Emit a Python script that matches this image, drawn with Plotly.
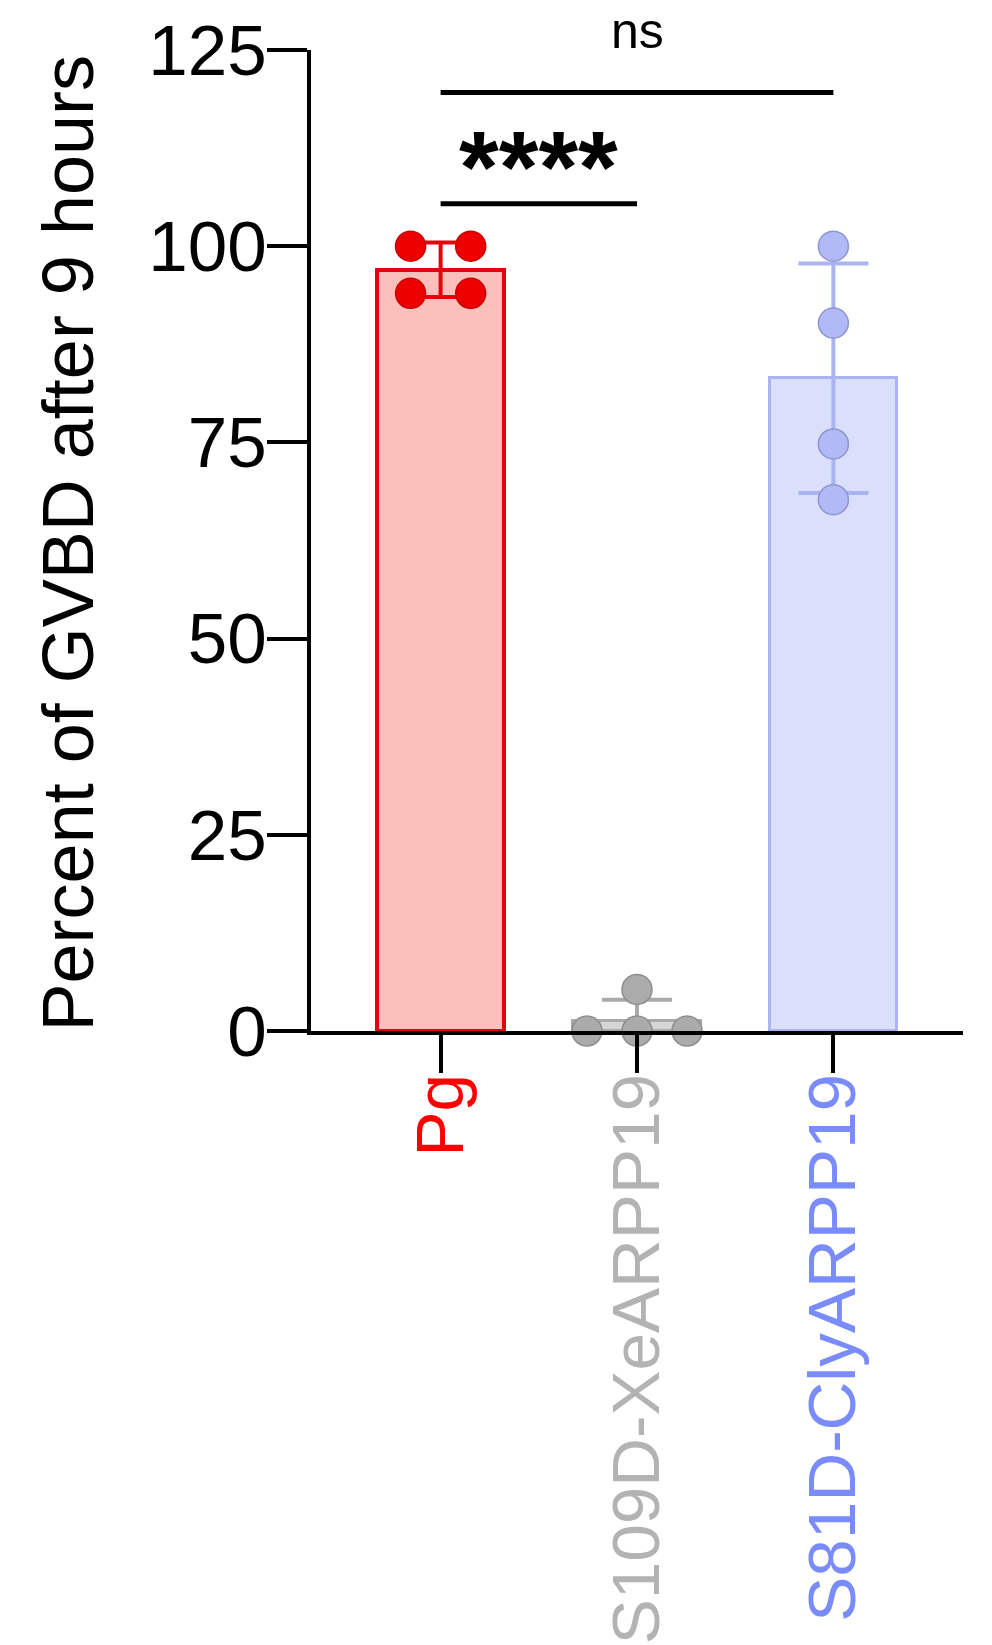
import numpy as np
import plotly.graph_objects as go

# ---- data ----
categories = ["Pg", "S109D-XeARPP19", "S81D-ClyARPP19"]
pg_values = [100, 100, 94, 94]
s109d_values = [0, 0, 0, 5.3]
s81d_values = [100, 90.2, 74.8, 67.7]
y_tick_vals = [0, 25, 50, 75, 100, 125]
y_title = "Percent of GVBD after 9 hours"
sig_labels = ["****", "ns"]

# point scatter offsets (category units) for each group's dots
pg_offsets = [-0.153, 0.153, -0.153, 0.153]
s109d_offsets = [-0.255, 0.0, 0.255, 0.0]
s81d_offsets = [0.0, 0.0, 0.0, 0.0]

groups = [pg_values, s109d_values, s81d_values]
offsets = [pg_offsets, s109d_offsets, s81d_offsets]

# ---- styles ----
bar_fill = ["#FCC0BC", "#D6D6D6", "#DADFFB"]
bar_line = ["#E30010", "#AAAAAA", "#AAB4F2"]
bar_line_w = [4, 3, 3]
err_color = ["#E8000B", "#AAAAAA", "#AAB4F2"]
dot_fill = ["#EE0000", "#ABABAB", "#B1B9F6"]
dot_line = ["#C80000", "#8E8E8E", "#8E96CF"]
label_color = ["#FF0000", "#B3B3B3", "#7A8BFB"]
FONT = "Liberation Sans, Arial, Helvetica, sans-serif"

fig = go.Figure()

for i, vals in enumerate(groups):
    arr = np.array(vals, dtype=float)
    mean = arr.mean()
    sd = arr.std(ddof=1)
    fig.add_trace(go.Bar(
        x=[i], y=[mean], width=0.65,
        marker=dict(color=bar_fill[i], line=dict(color=bar_line[i], width=bar_line_w[i])),
        error_y=dict(type="data", array=[sd], visible=True, color=err_color[i],
                     thickness=4, width=35),
        showlegend=False, hoverinfo="skip",
    ))

for i, vals in enumerate(groups):
    xs = [i + o for o in offsets[i]]
    fig.add_trace(go.Scatter(
        x=xs, y=vals, mode="markers",
        marker=dict(size=30, color=dot_fill[i], line=dict(color=dot_line[i], width=1.5)),
        showlegend=False, hoverinfo="skip", cliponaxis=False,
    ))

# significance brackets
fig.add_shape(type="line", x0=0, x1=2, y0=119.6, y1=119.6, xref="x", yref="y",
              line=dict(color="black", width=5))
fig.add_shape(type="line", x0=0, x1=1, y0=105.4, y1=105.4, xref="x", yref="y",
              line=dict(color="black", width=5))
fig.add_annotation(x=0.5, y=110.1, xref="x", yref="y", text="<b>" + sig_labels[0] + "</b>",
                   showarrow=False, font=dict(family=FONT, size=102, color="black"),
                   xanchor="center", yanchor="middle")
fig.add_annotation(x=1, y=1.019, xref="x", yref="paper", text=sig_labels[1],
                   showarrow=False, font=dict(family=FONT, size=50, color="black"),
                   xanchor="center", yanchor="middle")

# y-axis title
fig.add_annotation(x=(68 - 311) / 652, y=0.497, xref="paper", yref="paper", text=y_title,
                   textangle=-90, showarrow=False,
                   font=dict(family=FONT, size=72, color="black"),
                   xanchor="center", yanchor="middle")

ticktext = [f'<span style="color:{label_color[i]}">{c}</span>' for i, c in enumerate(categories)]

fig.update_layout(
    width=992, height=1645,
    margin=dict(l=311, r=29, t=50, b=614),
    paper_bgcolor="white", plot_bgcolor="white",
    font=dict(family=FONT, color="black"),
    bargap=0,
    xaxis=dict(
        range=[-0.66, 2.66], tickmode="array", tickvals=[0, 1, 2], ticktext=ticktext,
        tickangle=-90, tickfont=dict(family=FONT, size=67.5),
        showline=True, linecolor="black", linewidth=4,
        ticks="outside", ticklen=38, tickwidth=4, tickcolor="black",
        ticklabelstandoff=-26, automargin=False,
        showgrid=False, zeroline=False, fixedrange=True,
    ),
    yaxis=dict(
        range=[0, 125], tickmode="array", tickvals=y_tick_vals,
        tickfont=dict(family=FONT, size=71, color="black"),
        showline=True, linecolor="black", linewidth=4,
        ticks="outside", ticklen=40, tickwidth=4, tickcolor="black",
        ticklabelstandoff=-14, automargin=False,
        showgrid=False, zeroline=False, fixedrange=True,
    ),
)

fig.write_html("out.html")
